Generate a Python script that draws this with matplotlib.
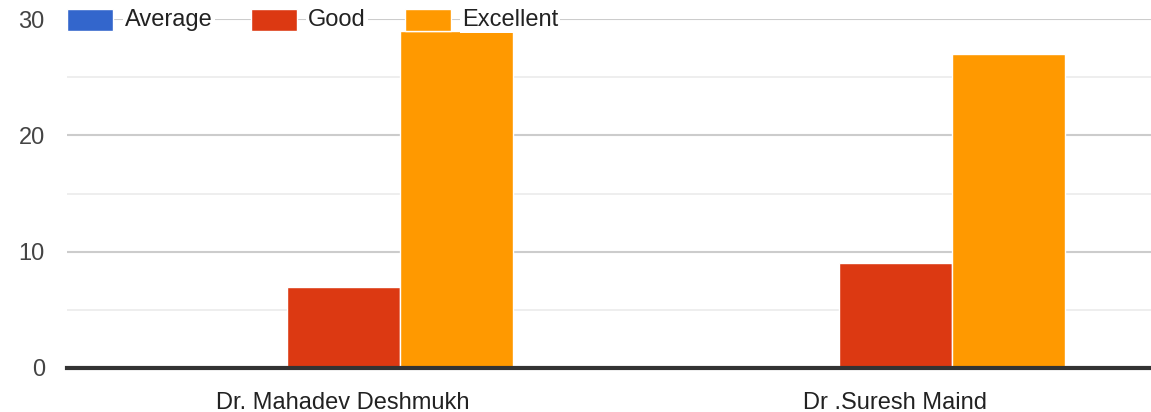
import matplotlib
matplotlib.use("Agg")
import numpy as np
from matplotlib import pyplot as plt
from matplotlib.patches import Rectangle

doctors = ["Dr. Mahadev Deshmukh", "Dr .Suresh Maind"]
average = [0, 0]
good = [7, 9]
excellent = [29, 27]
series_names = ["Average", "Good", "Excellent"]
colors = ["#3366cc", "#dc3912", "#ff9900"]

W, H = 1151, 412
plt.rcParams['font.family'] = ['Liberation Sans', 'DejaVu Sans']
fig = plt.figure(figsize=(W / 100, H / 100), dpi=100)
# plot area runs a bit past the right edge, like the original
ax = fig.add_axes([67 / W, 1 - 368 / H, 1104 / W, (368 - 19) / H])

x = np.arange(len(doctors))
bw = 113 / 552
for i, vals in enumerate([average, good, excellent]):
    ax.bar(x + (i - 1) * bw, vals, bw, color=colors[i], edgecolor="white",
           linewidth=1, zorder=3)

ax.set_xlim(-0.5, 1.5)
ax.set_ylim(0, 30)
ax.set_yticks([0, 10, 20, 30])
ax.set_yticks([5, 15, 25], minor=True)
ax.grid(axis="y", which="major", color="#cccccc", linewidth=1.5, zorder=0)
ax.grid(axis="y", which="minor", color="#ebebeb", linewidth=1.2, zorder=0)
ax.axhline(0, color="#333333", linewidth=3, zorder=5, clip_on=False)
for s in ax.spines.values():
    s.set_visible(False)
ax.set_xticks(x)
ax.set_xticklabels(doctors, fontsize=17, color="#222222")
ax.tick_params(axis="x", length=0, pad=17)
ax.tick_params(axis="y", which="both", length=0, pad=16, labelsize=17,
               labelcolor="#444444")
ax.set_axisbelow(True)

# legend drawn over the top gridline
items = [(67, 125), (251, 308), (405, 462)]
for (bx, tx), name, c in zip(items, series_names, colors):
    fig.add_artist(Rectangle((bx / W, 1 - 31 / H), 46 / W, 22 / H,
                             transform=fig.transFigure, facecolor=c,
                             edgecolor="white", linewidth=1))
    fig.text(tx / W, 1 - 20 / H, name, fontsize=17, color="#222222",
             va="center", ha="left",
             bbox=dict(facecolor="white", edgecolor="none", pad=1.5))

fig.savefig("out.png", dpi=100)
